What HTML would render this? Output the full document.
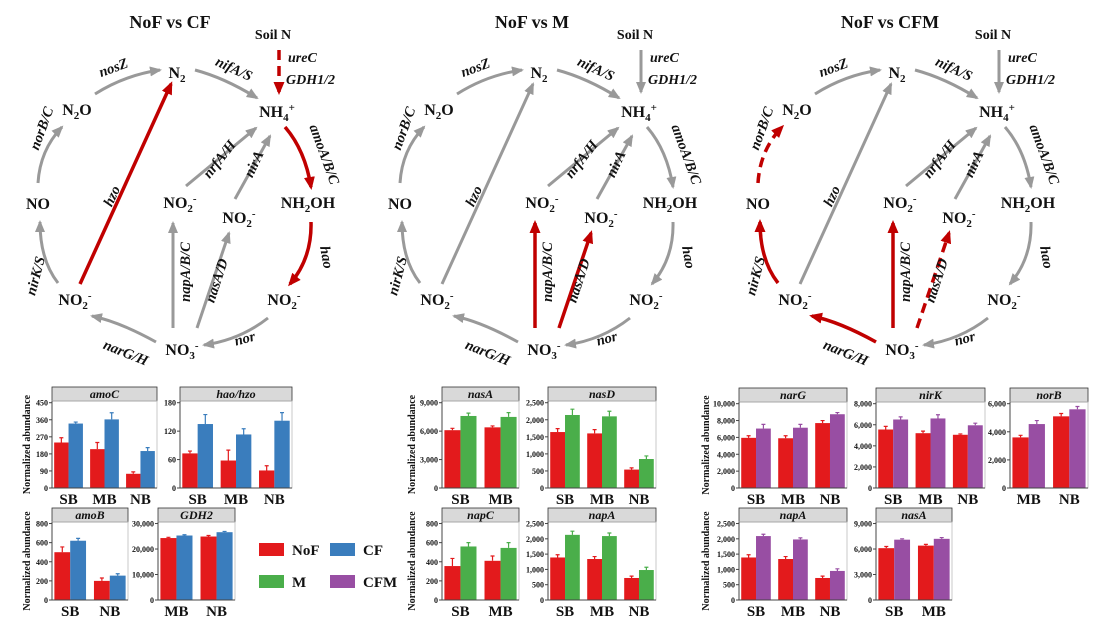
<!DOCTYPE html>
<html><head><meta charset="utf-8"><style>
html,body{margin:0;padding:0;background:#fff}
svg{display:block}
text{font-family:"Liberation Serif",serif;font-weight:bold;fill:#111}
</style></head><body>
<svg id="s" width="1103" height="633" viewBox="0 0 1103 633" xmlns="http://www.w3.org/2000/svg">
<defs>
<marker id="mg" markerUnits="userSpaceOnUse" markerWidth="12" markerHeight="10" refX="10" refY="5" orient="auto"><path d="M0,0 L12,5 L0,10 z" fill="#999"/></marker>
<marker id="mr" markerUnits="userSpaceOnUse" markerWidth="13" markerHeight="11" refX="10" refY="5.5" orient="auto"><path d="M0,0 L13,5.5 L0,11 z" fill="#c00000"/></marker>
</defs>
<g id="g"></g>
</svg>
<script>
var NS="http://www.w3.org/2000/svg",G=document.getElementById("g");
function el(t,a,txt){var e=document.createElementNS(NS,t);for(var k in a)e.setAttribute(k,a[k]);if(txt!=null)e.textContent=txt;G.appendChild(e);return e;}
function T(x,y,s,sz,o){o=o||{};var a={x:x,y:y,"font-size":sz,"text-anchor":o.anchor||"middle"};if(o.it)a["font-style"]="italic";if(o.fill)a.fill=o.fill;if(o.rot!=null)a.transform="rotate("+o.rot+" "+x+" "+y+")";return el("text",a,s);}
function chem(x,y,parts){var e=T(x,y,"",16);var dy=0;parts.forEach(function(p){var s=document.createElementNS(NS,"tspan");s.textContent=p[0];if(p[1]=="b"){s.setAttribute("dy",4-dy);dy=4;s.setAttribute("font-size","11");}else if(p[1]=="p"){s.setAttribute("dy",-6-dy);dy=-6;s.setAttribute("font-size","11");}else{if(dy){s.setAttribute("dy",-dy);dy=0;}}e.appendChild(s);});}
function diagram(ox,title,reds,dashes){
 T(ox+170,28,title,18);
 T(ox+273,39,"Soil N",14);
 T(ox+288,62,"ureC",14,{anchor:"start",it:1});
 T(ox+286,84,"GDH1/2",14,{anchor:"start",it:1});
 chem(ox+177,78,[["N"],["2","b"]]);
 chem(ox+277,117,[["NH"],["4","b"],["+","p"]]);
 chem(ox+77,115,[["N"],["2","b"],["O"]]);
 chem(ox+38,209,[["NO"]]);
 chem(ox+75,305,[["NO"],["2","b"],["-","p"]]);
 chem(ox+182,355,[["NO"],["3","b"],["-","p"]]);
 chem(ox+284,305,[["NO"],["2","b"],["-","p"]]);
 chem(ox+308,208,[["NH"],["2","b"],["OH"]]);
 chem(ox+180,208,[["NO"],["2","b"],["-","p"]]);
 chem(ox+239,223,[["NO"],["2","b"],["-","p"]]);
 var E={
  soil:["M279,50 L279,92"],
  nosZ:["M95,94 Q125,75 160,70","nosZ",115,72,-20],
  nifA:["M195,70 Q225,78 257,98","nifA/S",232,73,25],
  norB:["M38,183 Q40,150 62,127","norB/C",46,130,-70],
  nirK:["M58,283 Q40,260 40,222","nirK/S",40,277,-75],
  hzo:["M80,284 L171,84","hzo",116,198,-65],
  narG:["M156,342 Q120,322 92,316","narG/H",124,357,22],
  nor:["M268,318 Q240,340 204,345","nor",246,343,-15],
  hao:["M311,222 Q312,258 290,284","hao",322,258,80],
  amoA:["M285,127 Q305,150 311,187","amoA/B/C",320,156,70],
  nrfA:["M186,186 L256,128","nrfA/H",223,162,-52],
  nirA:["M235,199 L270,136","nirA",258,166,-65],
  napA:["M173,328 L173,223","napA/B/C",190,272,-90],
  nasA:["M197,328 L229,233","nasA/D",221,282,-72]
 };
 for(var k in E){var e=E[k],r=reds.indexOf(k)>=0,d=dashes.indexOf(k)>=0;
  var p=el("path",{d:e[0],fill:"none",stroke:r?"#c00000":"#999","stroke-width":r?3.5:3,"marker-end":r?"url(#mr)":"url(#mg)",transform:"translate("+ox+",0)"});
  if(d)p.setAttribute("stroke-dasharray","10,6");
  if(e[1]){T(ox+e[2],e[3],e[1],14.5,{it:1,rot:e[4],fill:k=="nor"?"#bbb":"#111"});}
 }
}
diagram(0,"NoF vs CF",["soil","hzo","amoA","hao"],["soil"]);
diagram(362,"NoF vs M",["napA","nasA"],[]);
diagram(720,"NoF vs CFM",["nirK","norB","narG","napA","nasA"],["norB","nasA"]);

var RED="#e31a1c",BLUE="#3a7dbd",GREEN="#4aae4a",PUR="#984ea3";
function fmt(v){return v.toString().replace(/\B(?=(\d{3})+(?!\d))/g,",");}
function chart(x0,x1,st,ay,name,labs,A,B,col,ticks,ylab){
 var pt=st+14,W=x1-x0,n=labs.length,u=W/(n-0.08),top=ticks[ticks.length-1],ym=top*1.02;
 function Y(v){return ay-v/ym*(ay-pt);}
 el("rect",{x:x0,y:st,width:W,height:14,fill:"#d9d9d9",stroke:"#333","stroke-width":0.8});
 T(x0+W/2,st+11,name,12,{it:1});
 el("rect",{x:x0,y:pt,width:W,height:ay-pt,fill:"none",stroke:"#bbb","stroke-width":0.8});
 for(var i=0;i<n;i++){var c=x0+u*(0.46+i),bw=0.4*u;
  [[A,RED,c-bw],[B,col,c]].forEach(function(s){var v=s[0][i][0],e=s[0][i][1];
   el("rect",{x:s[2],y:Y(v),width:bw,height:ay-Y(v),fill:s[1]});
   var cx=s[2]+bw/2;el("path",{d:"M"+cx+","+Y(v)+"V"+Y(v+e)+"M"+(cx-2)+","+Y(v+e)+"H"+(cx+2),stroke:s[1],"stroke-width":1.2,fill:"none"});
  });
  T(c,ay+16,labs[i],15);
 }
 el("path",{d:"M"+x0+","+pt+"V"+ay+"H"+x1,stroke:"#444","stroke-width":1,fill:"none"});
 ticks.forEach(function(t){el("path",{d:"M"+(x0-3)+","+Y(t)+"H"+x0,stroke:"#444"});T(x0-4,Y(t)+3,fmt(t),8,{anchor:"end"});});
 if(ylab!=null)T(ylab,(pt+ay)/2,"Normalized abundance",10,{rot:-90});
}
chart(52,157,387,488,"amoC",["SB","MB","NB"],[[240,25],[205,35],[75,10]],[[340,8],[362,35],[195,18]],BLUE,[0,90,180,270,360,450],30);
chart(180,292,387,488,"hao/hzo",["SB","MB","NB"],[[73,5],[58,22],[37,10]],[[135,20],[113,12],[142,17]],BLUE,[0,60,120,180]);
chart(52,128,508,600,"amoB",["SB","NB"],[[500,55],[200,30]],[[620,25],[255,20]],BLUE,[0,200,400,600,800],30);
chart(158,235,508,600,"GDH2",["MB","NB"],[[24300,300],[24900,400]],[[25300,300],[26600,300]],BLUE,[0,10000,20000,30000]);
el("rect",{x:259,y:543,width:25,height:13,fill:RED});T(292,555,"NoF",15,{anchor:"start"});
el("rect",{x:330,y:543,width:25,height:13,fill:BLUE});T(363,555,"CF",15,{anchor:"start"});
el("rect",{x:259,y:575,width:25,height:13,fill:GREEN});T(292,587,"M",15,{anchor:"start"});
el("rect",{x:330,y:575,width:25,height:13,fill:PUR});T(363,587,"CFM",15,{anchor:"start"});
chart(442,519,387,488,"nasA",["SB","MB"],[[6100,200],[6400,150]],[[7600,300],[7500,450]],GREEN,[0,3000,6000,9000],415);
chart(548,656,387,488,"nasD",["SB","MB","NB"],[[1640,100],[1600,110],[540,50]],[[2140,170],[2100,150],[850,90]],GREEN,[0,500,1000,1500,2000,2500]);
chart(442,519,508,600,"napC",["SB","MB"],[[355,80],[410,50]],[[560,40],[545,55]],GREEN,[0,200,400,600,800],415);
chart(548,656,508,600,"napA",["SB","MB","NB"],[[1390,90],[1340,80],[720,60]],[[2130,120],[2090,100],[980,90]],GREEN,[0,500,1000,1500,2000,2500]);
chart(739,847,388,488,"narG",["SB","MB","NB"],[[5950,250],[5900,300],[7700,300]],[[7050,500],[7150,400],[8750,200]],PUR,[0,2000,4000,6000,8000,10000],709);
chart(876,985,388,488,"nirK",["SB","MB","NB"],[[5550,300],[5200,200],[5050,80]],[[6500,250],[6600,350],[5950,200]],PUR,[0,2000,4000,6000,8000]);
chart(1010,1088,388,488,"norB",["MB","NB"],[[3600,150],[5100,200]],[[4550,250],[5600,200]],PUR,[0,2000,4000,6000]);
chart(739,847,508,600,"napA",["SB","MB","NB"],[[1390,90],[1340,80],[720,60]],[[2090,60],[1980,50],[950,70]],PUR,[0,500,1000,1500,2000,2500],709);
chart(876,952,508,600,"nasA",["SB","MB"],[[6100,200],[6400,150]],[[7100,100],[7200,150]],PUR,[0,3000,6000,9000]);
</script>
</body></html>
